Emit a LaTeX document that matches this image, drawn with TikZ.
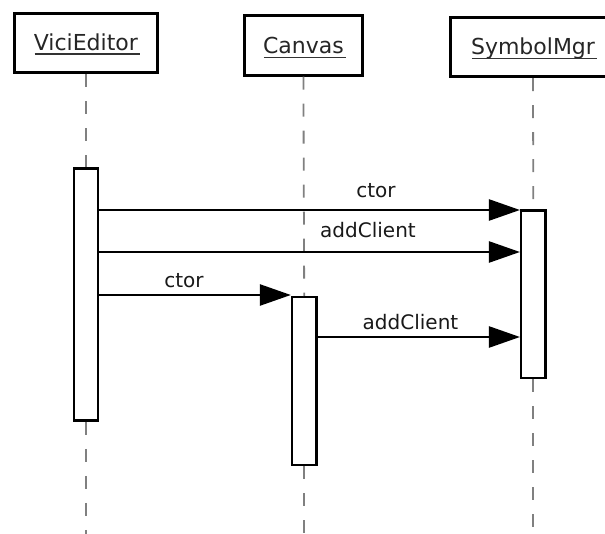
\documentclass[tikz,border=0pt]{standalone}
\usepackage{fontspec}
\setmainfont{DejaVu Sans}
\usetikzlibrary{arrows.meta}
\tikzset{
  headbox/.style={draw=black, line width=3pt, rectangle, fill=white, minimum height=59.4pt, inner sep=0pt},
  headtext/.style={inner sep=0pt, anchor=base, font=\fontsize{22}{24}\selectfont, text=black!85},
  uline/.style={line width=1.5pt, black!80},
  actbar/.style={draw=black, line width=2.5pt, rectangle, fill=white, inner sep=0pt, minimum width=24.2pt},
  lifeline/.style={draw=black!50, line width=1.8pt, dash pattern=on 13pt off 14pt},
  msg/.style={draw=black, line width=2.5pt, -{Triangle[length=31pt, width=21pt]}},
  msglabel/.style={inner sep=0pt, anchor=base, font=\fontsize{20}{22}\selectfont, text=black!90}
}
\begin{document}
\begin{tikzpicture}[x=1pt, y=-1pt]
  \useasboundingbox (0,0) rectangle (605,534);
  \clip (0,0) rectangle (605,534);

  % object heads
  \node[headbox, minimum width=143.3pt] (ve) at (85.9,42.9) {};
  \node[headbox, minimum width=118.3pt] (cv) at (303.4,45.5) {};
  \node[headbox, minimum width=165pt]   (sm) at (533,47)     {};

  \node[headtext] (vet) at ([yshift=-8pt]ve.center) {ViciEditor};
  \node[headtext] (cvt) at ([yshift=-8.5pt]cv.center) {Canvas};
  \node[headtext] (smt) at ([yshift=-8pt]sm.center) {SymbolMgr};
  \foreach \t in {vet,cvt,smt}
    \draw[uline] ([yshift=-3.3pt,xshift=1pt]\t.base west) -- ([yshift=-3.3pt,xshift=2pt]\t.base east);

  % activation bars
  \node[actbar, minimum height=252pt]   (va) at (85.9,294.5) {};
  \node[actbar, minimum height=167.5pt] (ca) at (304.2,381)  {};
  \node[actbar, minimum height=167.5pt] (sa) at (533.3,294.3) {};

  % free lower ends of the lifelines
  \coordinate (veEnd) at (85.9,534);
  \coordinate (cvEnd) at (304.2,534);
  \coordinate (smEnd) at (533.3,534);

  % lifelines
  \draw[lifeline] (ve.south) -- (va.north);
  \draw[lifeline] (va.south) -- (veEnd);
  \draw[lifeline] (cv.south) -- (ca.north);
  \draw[lifeline] (ca.south) -- (cvEnd);
  \draw[lifeline] (sm.south) -- (sa.north);
  \draw[lifeline] (sa.south) -- (smEnd);

  % messages
  \draw[msg] (va.east |- 0,210) -- (sa.west |- 0,210);
  \draw[msg] (va.east |- 0,252) -- (sa.west |- 0,252);
  \draw[msg] (va.east |- 0,295) -- (ca.west |- 0,295);
  \draw[msg] (ca.east |- 0,337) -- (sa.west |- 0,337);

  % message labels
  \node[msglabel] (m1) at (376,198)   {ctor};
  \node[msglabel] (m2) at (368,238)   {addClient};
  \node[msglabel] (m3) at (184,288)   {ctor};
  \node[msglabel] (m4) at (410.5,330) {addClient};
\end{tikzpicture}
\end{document}
